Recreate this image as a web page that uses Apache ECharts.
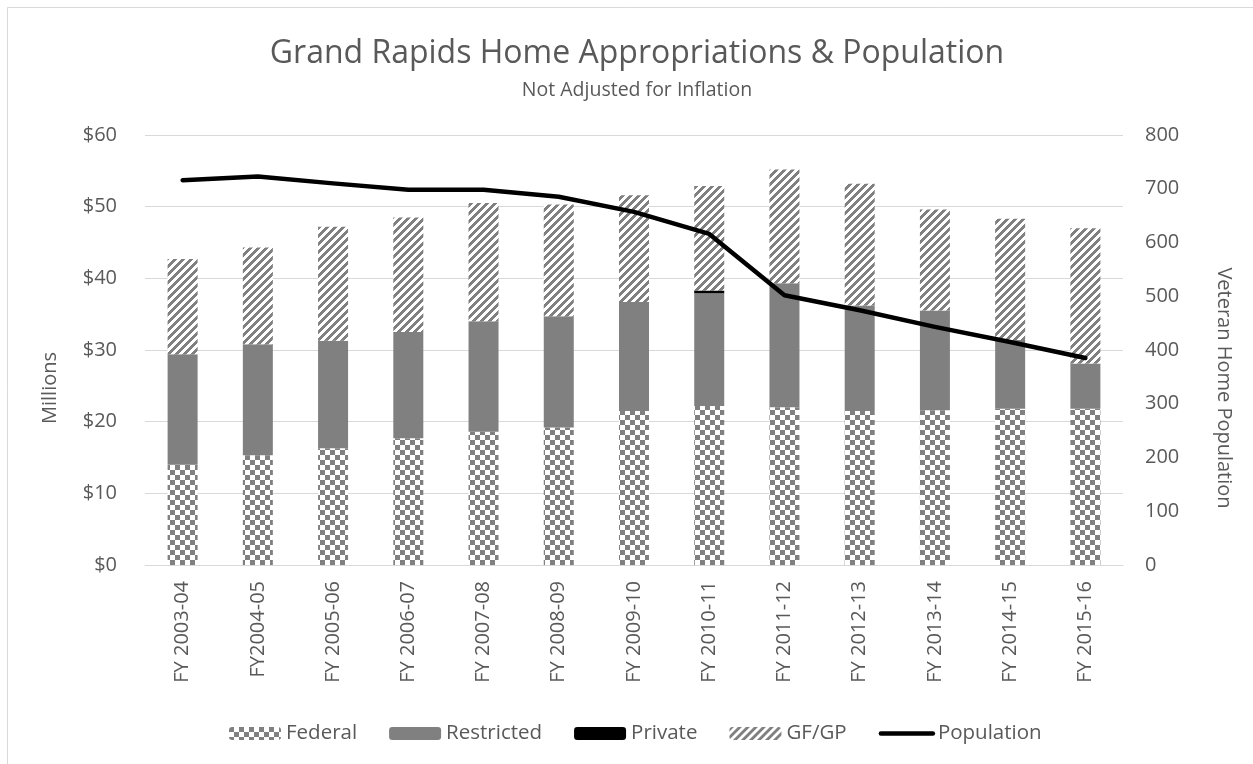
<!DOCTYPE html>
<html>
<head>
<meta charset="utf-8">
<title>Grand Rapids Home Appropriations & Population</title>
<script src="https://cdn.jsdelivr.net/npm/echarts@6/dist/echarts.min.js"></script>
<style>
  html, body { margin: 0; padding: 0; background: #fff; }
  #chart { width: 1253px; height: 764px; }
</style>
</head>
<body>
<div id="chart"></div>
<script>
// 数据（单位：百万美元 / 人）
const categories = ['FY 2003-04', 'FY2004-05', 'FY 2005-06', 'FY 2006-07', 'FY 2007-08', 'FY 2008-09',
  'FY 2009-10', 'FY 2010-11', 'FY 2011-12', 'FY 2012-13', 'FY 2013-14', 'FY 2014-15', 'FY 2015-16'];
const federal = [14.0, 15.3, 16.3, 17.7, 18.6, 19.2, 21.5, 22.2, 22.0, 21.5, 21.6, 21.8, 21.8];
const restricted = [15.4, 15.5, 15.0, 14.8, 15.4, 15.5, 15.2, 15.7, 17.3, 14.7, 13.9, 9.6, 6.3];
const privateFunds = [0, 0, 0, 0, 0, 0, 0, 0.4, 0, 0, 0, 0, 0];
const gfgp = [13.3, 13.5, 15.9, 16.0, 16.5, 15.6, 14.9, 14.6, 15.9, 17.0, 14.1, 16.9, 18.9];
const population = [716, 723, 710, 698, 698, 685, 657, 616, 502, 474, 443, 415, 385];
const leftTicks = { min: 0, max: 60, interval: 10 };
const rightTicks = { min: 0, max: 800, interval: 100 };

const textColor = '#595959';
const gridColor = '#d9d9d9';
const font = 'Open Sans';

// 棋盘格填充
function checkerPattern() {
  let c = document.createElement('canvas');
  c.width = 10; c.height = 10;
  let ctx = c.getContext('2d');
  ctx.fillStyle = '#fff';
  ctx.fillRect(0, 0, 10, 10);
  ctx.fillStyle = '#808080';
  ctx.fillRect(0, 0, 5, 5);
  ctx.fillRect(5, 5, 5, 5);
  return { image: c, repeat: 'repeat' };
}

// 斜线填充 "/"
function hatchPattern() {
  let c = document.createElement('canvas');
  c.width = 8; c.height = 8;
  let ctx = c.getContext('2d');
  ctx.fillStyle = '#fff';
  ctx.fillRect(0, 0, 8, 8);
  ctx.fillStyle = '#808080';
  for (let x = 0; x < 8; x++) {
    for (let y = 0; y < 8; y++) {
      if ((x + y) % 8 < 4) ctx.fillRect(x, y, 1, 1);
    }
  }
  return { image: c, repeat: 'repeat' };
}

const chart = echarts.init(document.getElementById('chart'));

const barBase = {
  type: 'bar',
  stack: 'total',
  barWidth: 30,
  yAxisIndex: 0
};

const option = {
  backgroundColor: '#fff',
  animation: false,
  title: {
    text: 'Grand Rapids Home Appropriations & Population',
    subtext: 'Not Adjusted for Inflation',
    left: 632,
    textAlign: 'center',
    top: 33,
    itemGap: 10,
    textStyle: { fontFamily: font, fontSize: 32, fontWeight: 'normal', color: textColor },
    subtextStyle: { fontFamily: font, fontSize: 19.5, color: textColor }
  },
  legend: {
    left: 224,
    top: 718,
    itemWidth: 52,
    itemHeight: 13,
    itemGap: 32,
    textStyle: { fontFamily: font, fontSize: 20.5, color: textColor },
    data: [
      'Federal', 'Restricted', 'Private', 'GF/GP',
      { name: 'Population', itemStyle: { opacity: 0 }, lineStyle: { width: 4.5, cap: 'round' } }
    ]
  },
  grid: {
    left: 145,
    right: 130,
    top: 135,
    bottom: 199,
    containLabel: false
  },
  xAxis: {
    type: 'category',
    data: categories,
    axisTick: { show: false },
    axisLine: { lineStyle: { color: gridColor, width: 1 } },
    axisLabel: {
      rotate: 90,
      margin: 16,
      fontFamily: font,
      fontSize: 20,
      color: textColor
    }
  },
  yAxis: [
    {
      type: 'value',
      min: leftTicks.min,
      max: leftTicks.max,
      interval: leftTicks.interval,
      axisLine: { show: false },
      axisTick: { show: false },
      splitLine: { lineStyle: { color: gridColor, width: 1 } },
      axisLabel: {
        margin: 28,
        fontFamily: font,
        fontSize: 20,
        color: textColor,
        formatter: v => '$' + v
      }
    },
    {
      type: 'value',
      min: rightTicks.min,
      max: rightTicks.max,
      interval: rightTicks.interval,
      axisLine: { show: false },
      axisTick: { show: false },
      splitLine: { show: false },
      axisLabel: {
        margin: 22,
        fontFamily: font,
        fontSize: 20,
        color: textColor
      }
    }
  ],
  graphic: [
    {
      type: 'rect',
      shape: { x: 7.5, y: 7.5, width: 1300, height: 800 },
      style: { fill: 'none', stroke: gridColor, lineWidth: 1 },
      silent: true
    },
    {
      type: 'text',
      x: 50,
      y: 388,
      rotation: Math.PI / 2,
      style: {
        text: 'Millions',
        fontFamily: font,
        fontSize: 20,
        fill: textColor,
        textAlign: 'center',
        textVerticalAlign: 'middle'
      }
    },
    {
      type: 'text',
      x: 1224,
      y: 388,
      rotation: -Math.PI / 2,
      style: {
        text: 'Veteran Home Population',
        fontFamily: font,
        fontSize: 20,
        fill: textColor,
        textAlign: 'center',
        textVerticalAlign: 'middle'
      }
    }
  ],
  series: [
    Object.assign({}, barBase, {
      name: 'Federal',
      data: federal,
      itemStyle: { color: checkerPattern() }
    }),
    Object.assign({}, barBase, {
      name: 'Restricted',
      data: restricted,
      itemStyle: { color: '#808080' }
    }),
    Object.assign({}, barBase, {
      name: 'Private',
      data: privateFunds,
      itemStyle: { color: '#000' }
    }),
    Object.assign({}, barBase, {
      name: 'GF/GP',
      data: gfgp,
      itemStyle: { color: hatchPattern() }
    }),
    {
      name: 'Population',
      type: 'line',
      yAxisIndex: 1,
      data: population,
      symbol: 'none',
      z: 10,
      itemStyle: { color: '#000' },
      lineStyle: { color: '#000', width: 4.5, cap: 'round', join: 'round' }
    }
  ]
};

chart.setOption(option);
window.onresize = function () {
  chart.resize();
};
</script>
</body>
</html>
